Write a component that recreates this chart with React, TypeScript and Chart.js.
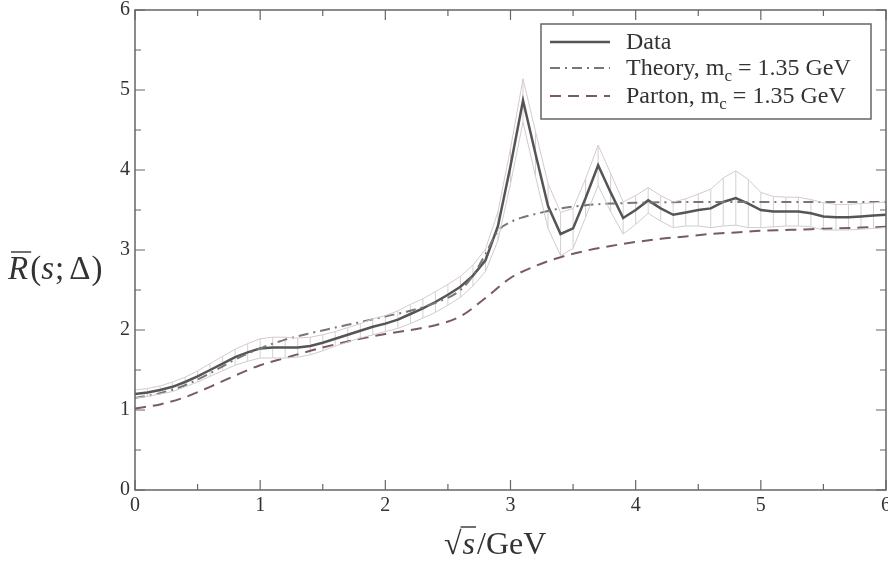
import React, { useEffect, useRef } from "react";
import { Chart, registerables } from "chart.js";

Chart.register(...registerables);

const dataX = [
  0.0, 0.1, 0.2, 0.3, 0.4, 0.5, 0.6, 0.7, 0.8, 0.9,
  1.0, 1.1, 1.2, 1.3, 1.4, 1.5, 1.6, 1.7, 1.8, 1.9,
  2.0, 2.1, 2.2, 2.3, 2.4, 2.5, 2.6, 2.7, 2.8, 2.9,
  3.0, 3.1, 3.2, 3.3, 3.4, 3.5, 3.6, 3.7, 3.8, 3.9,
  4.0, 4.1, 4.2, 4.3, 4.4, 4.5, 4.6, 4.7, 4.8, 4.9,
  5.0, 5.1, 5.2, 5.3, 5.4, 5.5, 5.6, 5.7, 5.8, 5.9, 6.0,
];
const dataY = [
  1.2, 1.22, 1.25, 1.29, 1.35, 1.42, 1.5, 1.58, 1.66, 1.72,
  1.77, 1.78, 1.78, 1.78, 1.8, 1.84, 1.89, 1.94, 1.99, 2.04,
  2.08, 2.13, 2.2, 2.27, 2.35, 2.44, 2.54, 2.68, 2.87, 3.3,
  4.05, 4.87, 4.2, 3.55, 3.2, 3.27, 3.65, 4.06, 3.72, 3.4,
  3.5, 3.62, 3.52, 3.44, 3.47, 3.5, 3.52, 3.6, 3.65, 3.58,
  3.5, 3.48, 3.48, 3.48, 3.46, 3.42, 3.41, 3.41, 3.42, 3.43, 3.44,
];
const dataErr = [
  0.05, 0.05, 0.05, 0.06, 0.06, 0.07, 0.08, 0.09, 0.1, 0.11,
  0.12, 0.13, 0.13, 0.12, 0.11, 0.1, 0.09, 0.09, 0.09, 0.1,
  0.1, 0.11, 0.12, 0.12, 0.13, 0.13, 0.13, 0.13, 0.14, 0.18,
  0.22, 0.27, 0.28, 0.28, 0.27, 0.25, 0.24, 0.25, 0.24, 0.2,
  0.18, 0.16, 0.16, 0.16, 0.17, 0.2, 0.24, 0.3, 0.34, 0.3,
  0.22, 0.19, 0.18, 0.18, 0.17, 0.17, 0.16, 0.16, 0.16, 0.16, 0.16,
];

const theoryX = [0, 0.2, 0.4, 0.6, 0.8, 1.0, 1.2, 1.4, 1.6, 1.8, 2.0, 2.2, 2.4, 2.6, 2.7, 2.8, 2.9, 3.0, 3.1, 3.2, 3.4, 3.6, 3.8, 4.0, 4.5, 5.0, 5.5, 6.0];
const theoryY = [1.15, 1.21, 1.31, 1.46, 1.63, 1.77, 1.88, 1.96, 2.03, 2.1, 2.17, 2.24, 2.34, 2.5, 2.68, 2.95, 3.24, 3.35, 3.41, 3.45, 3.52, 3.56, 3.58, 3.59, 3.6, 3.6, 3.6, 3.6];

const partonX = [0, 0.2, 0.4, 0.6, 0.8, 1.0, 1.2, 1.4, 1.6, 1.8, 2.0, 2.2, 2.4, 2.6, 2.8, 3.0, 3.2, 3.4, 3.6, 3.8, 4.0, 4.2, 4.4, 4.6, 4.8, 5.0, 5.2, 5.4, 5.6, 5.8, 6.0];
const partonY = [1.02, 1.07, 1.16, 1.29, 1.43, 1.56, 1.65, 1.74, 1.82, 1.89, 1.95, 2.0, 2.06, 2.17, 2.4, 2.65, 2.8, 2.91, 2.99, 3.05, 3.1, 3.14, 3.17, 3.2, 3.22, 3.24, 3.25, 3.26, 3.27, 3.28, 3.29];

const xTicks = [0, 1, 2, 3, 4, 5, 6];
const yTicks = [0, 1, 2, 3, 4, 5, 6];
const legendLabels = ["Data", "Theory, m", "Parton, m"];
const legendSuffix = ["", " = 1.35 GeV", " = 1.35 GeV"];

const SERIF = "'Liberation Serif', 'DejaVu Serif', serif";

const pts = (xs: number[], ys: number[]) => xs.map((x, i) => ({ x, y: ys[i] }));

const decorPlugin = {
  id: "decor",
  beforeDatasetsDraw(chart: any) {
    const { ctx, scales } = chart;
    const xs = scales.x;
    const ys = scales.y;
    ctx.save();
    ctx.strokeStyle = "#d4cfd4";
    ctx.lineWidth = 1;
    for (let i = 0; i < dataX.length; i++) {
      const px = xs.getPixelForValue(dataX[i]);
      ctx.beginPath();
      ctx.moveTo(px, ys.getPixelForValue(dataY[i] - dataErr[i]));
      ctx.lineTo(px, ys.getPixelForValue(dataY[i] + dataErr[i]));
      ctx.stroke();
    }
    ctx.restore();
  },
  afterDraw(chart: any) {
    const { ctx, chartArea: ca, scales } = chart;
    const xs = scales.x;
    const ys = scales.y;
    ctx.save();
    // frame
    ctx.strokeStyle = "#666";
    ctx.lineWidth = 1.5;
    ctx.strokeRect(ca.left, ca.top, ca.right - ca.left, ca.bottom - ca.top);
    // ticks
    ctx.lineWidth = 1.2;
    for (let v = 0; v <= 6.001; v += 0.5) {
      const major = Math.abs(v - Math.round(v)) < 1e-6;
      const len = major ? 10 : 6;
      const px = xs.getPixelForValue(v);
      const py = ys.getPixelForValue(v);
      ctx.beginPath();
      ctx.moveTo(px, ca.bottom);
      ctx.lineTo(px, ca.bottom - len);
      ctx.moveTo(px, ca.top);
      ctx.lineTo(px, ca.top + len);
      ctx.moveTo(ca.left, py);
      ctx.lineTo(ca.left + len, py);
      ctx.moveTo(ca.right, py);
      ctx.lineTo(ca.right - len, py);
      ctx.stroke();
    }
    // legend
    const bl = ca.right - 345;
    const bt = ca.top + 14;
    const bw = 330;
    const bh = 95;
    ctx.fillStyle = "#fff";
    ctx.fillRect(bl, bt, bw, bh);
    ctx.strokeStyle = "#666";
    ctx.lineWidth = 1.5;
    ctx.strokeRect(bl, bt, bw, bh);
    const rowY = [bt + 18, bt + 44, bt + 72];
    const styles = [
      { color: "#555", dash: [], w: 2.5 },
      { color: "#777", dash: [10, 5, 2, 5], w: 2 },
      { color: "#7a5a62", dash: [11, 7], w: 2 },
    ];
    for (let i = 0; i < 3; i++) {
      ctx.beginPath();
      ctx.strokeStyle = styles[i].color;
      ctx.lineWidth = styles[i].w;
      ctx.setLineDash(styles[i].dash);
      ctx.moveTo(bl + 9, rowY[i]);
      ctx.lineTo(bl + 69, rowY[i]);
      ctx.stroke();
      ctx.setLineDash([]);
      ctx.fillStyle = "#333";
      ctx.textBaseline = "alphabetic";
      ctx.textAlign = "left";
      ctx.font = `24px ${SERIF}`;
      let tx = bl + 85;
      const ty = rowY[i] + 7;
      ctx.fillText(legendLabels[i], tx, ty);
      tx += ctx.measureText(legendLabels[i]).width;
      if (legendSuffix[i]) {
        ctx.font = `17px ${SERIF}`;
        ctx.fillText("c", tx, ty + 6);
        tx += ctx.measureText("c").width;
        ctx.font = `24px ${SERIF}`;
        ctx.fillText(legendSuffix[i], tx, ty);
      }
    }
    // x title: sqrt(s)/GeV
    ctx.fillStyle = "#333";
    ctx.strokeStyle = "#333";
    ctx.lineWidth = 1.4;
    ctx.font = `32px ${SERIF}`;
    const xtY = 554;
    let x0 = 444;
    ctx.fillText("\u221A", x0, xtY);
    const rw = ctx.measureText("\u221A").width;
    x0 += rw;
    ctx.font = `italic 32px ${SERIF}`;
    const sw = ctx.measureText("s").width;
    ctx.beginPath();
    ctx.moveTo(x0 - 1, xtY - 27);
    ctx.lineTo(x0 + sw + 2, xtY - 27);
    ctx.stroke();
    ctx.fillText("s", x0 + 1, xtY);
    x0 += sw + 3;
    ctx.font = `32px ${SERIF}`;
    ctx.fillText("/GeV", x0, xtY);
    // y title: R̄(s;Δ)
    const ytY = 279;
    let y0 = 8;
    ctx.font = `italic 33px ${SERIF}`;
    const Rw = ctx.measureText("R").width;
    ctx.fillText("R", y0, ytY);
    ctx.beginPath();
    ctx.moveTo(y0 + 3, ytY - 27);
    ctx.lineTo(y0 + Rw + 3, ytY - 27);
    ctx.stroke();
    y0 += Rw + 2;
    ctx.font = `33px ${SERIF}`;
    ctx.fillText("(", y0, ytY);
    y0 += ctx.measureText("(").width;
    ctx.font = `italic 33px ${SERIF}`;
    ctx.fillText("s", y0, ytY);
    y0 += ctx.measureText("s").width + 1;
    ctx.font = `33px ${SERIF}`;
    ctx.fillText(";", y0, ytY);
    y0 += ctx.measureText(";").width + 5;
    ctx.fillText("\u0394", y0, ytY);
    y0 += ctx.measureText("\u0394").width + 1;
    ctx.fillText(")", y0, ytY);
    ctx.restore();
  },
};

export default function App() {
  const ref = useRef<HTMLCanvasElement | null>(null);
  useEffect(() => {
    if (!ref.current) return;
    const chart = new Chart(ref.current, {
      type: "scatter",
      data: {
        datasets: [
          {
            label: "upper",
            data: pts(dataX, dataY.map((v, i) => v + dataErr[i])),
            showLine: true,
            borderColor: "#d8c8d0",
            borderWidth: 1,
            pointRadius: 0,
          },
          {
            label: "lower",
            data: pts(dataX, dataY.map((v, i) => v - dataErr[i])),
            showLine: true,
            borderColor: "#d0cbd0",
            borderWidth: 1,
            pointRadius: 0,
          },
          {
            label: "Parton",
            data: pts(partonX, partonY),
            showLine: true,
            borderColor: "#7a5a62",
            borderWidth: 2,
            borderDash: [11, 7],
            pointRadius: 0,
            cubicInterpolationMode: "monotone",
          },
          {
            label: "Theory",
            data: pts(theoryX, theoryY),
            showLine: true,
            borderColor: "#777",
            borderWidth: 2,
            borderDash: [10, 5, 2, 5],
            pointRadius: 0,
            cubicInterpolationMode: "monotone",
          },
          {
            label: "Data",
            data: pts(dataX, dataY),
            showLine: true,
            borderColor: "#555",
            borderWidth: 2.5,
            pointRadius: 0,
          },
        ],
      },
      options: {
        animation: false,
        responsive: false,
        maintainAspectRatio: false,
        layout: { padding: { top: 10, right: 2, left: 0, bottom: 0 } },
        plugins: { legend: { display: false }, tooltip: { enabled: false } },
        scales: {
          x: {
            type: "linear",
            min: 0,
            max: 6,
            grid: { display: false, drawTicks: false },
            border: { display: false },
            afterBuildTicks: (s: any) => {
              s.ticks = xTicks.map((v) => ({ value: v }));
            },
            afterFit: (s: any) => {
              s.height = 72;
              s.paddingLeft = 0;
              s.paddingRight = 0;
            },
            ticks: {
              color: "#333",
              padding: 4,
              font: { family: SERIF, size: 20 },
            },
          },
          y: {
            type: "linear",
            min: 0,
            max: 6,
            grid: { display: false, drawTicks: false },
            border: { display: false },
            afterBuildTicks: (s: any) => {
              s.ticks = yTicks.map((v) => ({ value: v }));
            },
            afterFit: (s: any) => {
              s.width = 135;
              s.paddingTop = 0;
              s.paddingBottom = 0;
            },
            ticks: {
              color: "#333",
              padding: 5,
              font: { family: SERIF, size: 20 },
            },
          },
        },
      },
      plugins: [decorPlugin],
    } as any);
    return () => chart.destroy();
  }, []);
  return (
    <div style={{ position: "fixed", left: 0, top: 0, width: 888, height: 562, background: "#fff" }}>
      <canvas ref={ref} width={888} height={562} style={{ width: 888, height: 562 }} />
    </div>
  );
}
